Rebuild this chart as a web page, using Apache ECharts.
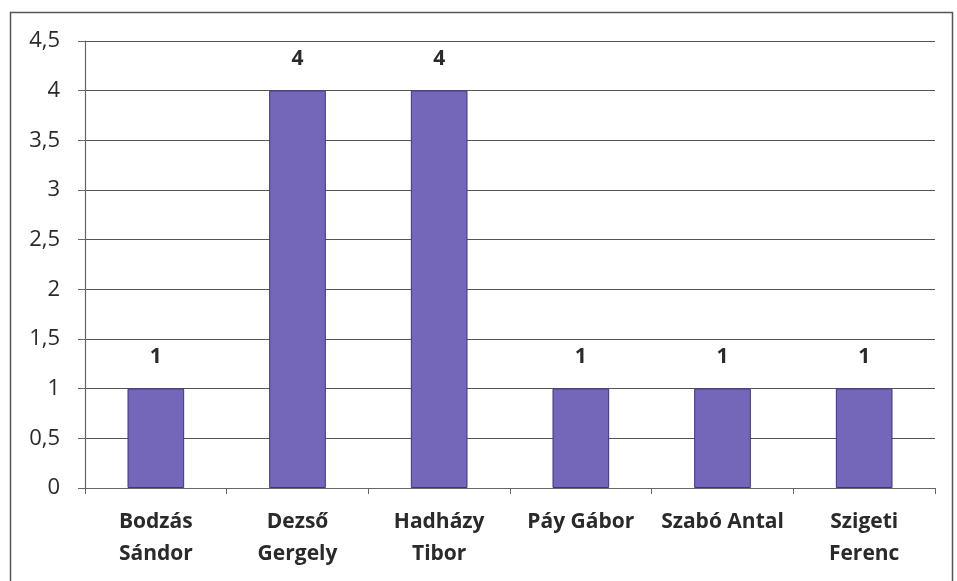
<!DOCTYPE html>
<html>
<head>
<meta charset="utf-8">
<script src="https://cdn.jsdelivr.net/npm/echarts@6/dist/echarts.min.js"></script>
<style>
  html, body { margin: 0; padding: 0; background: #fff; }
  #main { width: 957px; height: 581px; }
</style>
</head>
<body>
<div id="main"></div>
<script>
// names, as printed under the bars
var names = ['Bodzás\nSándor', 'Dezső\nGergely', 'Hadházy\nTibor', 'Páy Gábor', 'Szabó Antal', 'Szigeti\nFerenc'];
var votes = [1, 4, 4, 1, 1, 1];

var chart = echarts.init(document.getElementById('main'));

var option = {
	backgroundColor: '#fff',
	animation: false,
	graphic: [{
		type: 'rect',
		shape: { x: 10.5, y: 12.5, width: 942, height: 600 },
		style: { fill: 'none', stroke: '#555', lineWidth: 1.5 },
		silent: true
	}],
	grid: {
		left: 85,
		right: 22,
		top: 41,
		bottom: 93
	},
	xAxis: {
		type: 'category',
		data: names,
		axisLine: { lineStyle: { color: '#666', width: 1.2 } },
		axisTick: { show: true, length: 6, lineStyle: { color: '#666' } },
		axisLabel: {
			color: '#2a2a2a',
			fontFamily: 'Open Sans',
			fontWeight: 'bold',
			fontSize: 21,
			lineHeight: 32,
			margin: 18,
			interval: 0
		}
	},
	yAxis: {
		type: 'value',
		min: 0,
		max: 4.5,
		interval: 0.5,
		axisLine: { show: true, lineStyle: { color: '#666', width: 1.2 } },
		axisTick: { show: true, length: 7, lineStyle: { color: '#666' } },
		splitLine: { lineStyle: { color: '#555', width: 1.2 } },
		axisLabel: {
			color: '#2a2a2a',
			fontFamily: 'Open Sans',
			fontSize: 22,
			margin: 25,
			formatter: function (v) {
				return String(v).replace('.', ',');  // hungarian decimal comma
			}
		}
	},
	series: [{
		type: 'bar',
		data: votes,
		barWidth: '40%',
		itemStyle: {
			color: '#7466b8',
			borderColor: '#3b3585',
			borderWidth: 1
		},
		label: {
			show: true,
			position: 'top',
			distance: 21,
			color: '#2a2a2a',
			fontFamily: 'Open Sans',
			fontWeight: 'bold',
			fontSize: 21
		}
	}]
};

chart.setOption(option);
</script>
</body>
</html>
